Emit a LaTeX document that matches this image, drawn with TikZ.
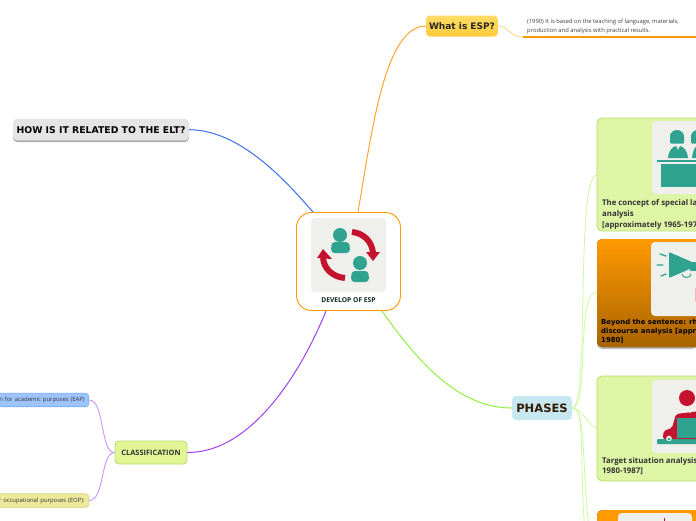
\documentclass[tikz,border=0pt]{standalone}
\usepackage{fontspec}
\setmainfont{Open Sans}
\newfontfamily\dv{DejaVu Sans}
\definecolor{teal1}{HTML}{2FA38F}
\definecolor{crim}{HTML}{C4122F}
\definecolor{pale}{HTML}{EFF0EC}
\definecolor{lime}{HTML}{DFF5A6}
\definecolor{limeb}{HTML}{B4DD6A}
\definecolor{orng}{HTML}{FF9900}
\definecolor{orngd}{HTML}{A86400}
\definecolor{lnkblue}{HTML}{3F6FF0}
\definecolor{lnkorange}{HTML}{FFA52E}
\definecolor{lnkviolet}{HTML}{A040F0}
\definecolor{lnkgreen}{HTML}{90F040}
\definecolor{thinviolet}{HTML}{CC88FF}
\definecolor{thingreen}{HTML}{CDF9A0}
\definecolor{thinorange}{HTML}{FFD08A}
\definecolor{phasesfill}{HTML}{C7E7F1}
\definecolor{eapfill}{HTML}{9EC5FE}
\definecolor{eapline}{HTML}{74A9F2}
\definecolor{eopfill}{HTML}{EDE99A}
\definecolor{eopline}{HTML}{D9D47A}
\definecolor{whattop}{HTML}{FFDC66}
\definecolor{whatbot}{HTML}{FFCB3D}
\tikzset{
 card/.style={rounded corners=5pt,line width=.8pt},
 greencard/.style={card,draw=limeb,fill=lime},
 orangecard/.style={card,draw=none,top color=orng,bottom color=orngd},
 iconbg/.style={rounded corners=4pt,fill=pale,draw=none},
 cardtxt/.style={font=\fontsize{7.8}{10.8}\selectfont\bfseries,anchor=north west,inner sep=0pt,align=left,text=black!80},
 cardtxtd/.style={font=\dv\fontsize{6.9}{9}\selectfont\bfseries,anchor=north west,inner sep=0pt,align=left,text=black},
 lnk/.style={line width=1pt,line cap=round},
 thinlnk/.style={line width=.8pt,line cap=round},
 leaf/.style={rounded corners=3pt,line width=.6pt,minimum height=13.5pt,inner sep=0pt,anchor=east,font=\fontsize{5.9}{7}\selectfont,text=black!80,text width=142pt,align=right},
}
\begin{document}
\begin{tikzpicture}[x=1pt,y=-1pt]
\useasboundingbox (0,0) rectangle (696,520);
\clip (0,0) rectangle (696,520);
\fill[white] (0,0) rectangle (696,520);
\coordinate (cT1) at (358,212);
\coordinate (cT2) at (313,212);
\coordinate (cB1) at (326,311);
\coordinate (cB2) at (382,311);
\coordinate (under) at (523,37);
\coordinate (underEnd) at (696,37);
% nodes
\fill[black!32,rounded corners=4pt] (13,122) rectangle (189,142);
\node[rounded corners=4pt,fill=black!10,minimum width=176pt,minimum height=21.5pt,inner sep=0pt,font=\dv\fontsize{9.3}{11}\selectfont\bfseries,text=black] (elt) at (101,129.7) {HOW IS IT RELATED TO THE ELT?};
\node[rounded corners=4pt,top color=whattop,bottom color=whatbot,minimum width=72pt,minimum height=21pt,inner sep=0pt,font=\dv\fontsize{9}{11}\selectfont\bfseries,text=black!85] (what) at (462,26) {What is ESP?};
\node[rounded corners=4pt,fill=phasesfill,minimum width=60pt,minimum height=24pt,inner sep=0pt,font=\dv\fontsize{11.5}{13}\selectfont\bfseries,text=black!80!orange] (ph) at (542,408) {PHASES};
\node[rounded corners=4pt,fill=lime!90!yellow,draw=limeb,line width=.8pt,minimum width=72pt,minimum height=23pt,inner sep=0pt,font=\fontsize{7.4}{9}\selectfont\bfseries,text=black!80] (cl) at (151,452.5) {CLASSIFICATION};
\node[leaf,fill=eapfill,draw=eapline] (eap) at (89,400) {Instruction for academic purposes (EAP)\hspace*{4pt}};
\node[leaf,fill=eopfill,draw=eopline] (eop) at (89,500.5) {English for occupational purposes (EOP):\hspace*{4pt}};
\node[inner sep=0pt,anchor=north west,align=left,font=\fontsize{5.8}{9.2}\selectfont,text=black!75] (desc) at (527,19) {(1990) It is based on the teaching of language, materials,\\production and analysis with practical results.};
% connectors
\draw[lnk,lnkblue] (cT2) .. controls (285,180) and (240,130) .. (elt.east);
\draw[lnk,lnkorange] (cT1) .. controls (372,130) and (385,26) .. (what.west);
\draw[lnk,lnkviolet] (cB1) .. controls (300,375) and (250,453) .. (cl.east);
\draw[lnk,lnkgreen] (cB2) .. controls (420,365) and (460,408) .. (ph.west);
\draw[thinlnk,thinorange] (what.east) .. controls (508,26) and (510,37) .. (under);
\draw[orng,line width=1.2pt] (under) -- (underEnd);
\draw[thinlnk,thinviolet] (cl.west) .. controls (100,453) and (105,400) .. (eap.east);
\draw[thinlnk,thinviolet] (cl.west) .. controls (100,453) and (105,501) .. (eop.east);
\draw[thinlnk,thingreen] (ph.east) .. controls (590,408) and (575,175) .. (597,175);
\draw[thinlnk,thingreen] (ph.east) .. controls (590,408) and (575,292) .. (597,292);
\draw[thinlnk,thingreen] (ph.east) .. controls (582,408) and (590,428) .. (597,428);
\draw[thinlnk,thingreen] (ph.east) .. controls (590,408) and (578,500) .. (597,570);
\draw[thinlnk,thingreen] (ph.east) .. controls (590,408) and (572,480) .. (597,640);
% central
\node[rounded corners=15pt,draw=orng,line width=.9pt,fill=white,minimum width=104pt,minimum height=98pt,inner sep=0pt] (center) at (348.5,261.5) {};
\fill[iconbg] (311,218) rectangle (386,292);
\node[inner sep=0pt,font=\fontsize{6.7}{8}\selectfont\bfseries,text=teal1!25!black] (ctitle) at (348.5,300) {DEVELOP OF ESP};
% center persons
\fill[teal1] (340,235) circle (7pt);
\fill[teal1,rounded corners=3.5pt] (331,253) -- (331.5,242) -- (349.5,242) -- (350,253) -- cycle;
\fill[teal1] (360,263) circle (7pt);
\fill[teal1,rounded corners=3.5pt] (351,282) -- (351.5,271) -- (368.5,271) -- (369,282) -- cycle;
% center arrows
\draw[crim,line width=6pt] (352,232) .. controls (363,233) and (372,241) .. (373,253);
\fill[crim] (366,252) -- (380,252) -- (373,261) -- cycle;
\draw[crim,line width=6pt] (345,278) .. controls (333,277) and (324,269) .. (323,258);
\fill[crim] (317,258) -- (332,259) -- (323,249) -- cycle;
% green card 1
\draw[greencard] (597,118) rectangle (720,231);
\fill[iconbg] (652,121) rectangle (725,194);
\fill[teal1,rounded corners=1pt] (670,143.5) -- (670,137) arc (180:0:7pt) -- (684,143.5) -- cycle;
\fill[teal1] (668,158) .. controls (669,150) and (672,147) .. (676,146) -- (678,150) -- (680,146) .. controls (684,147) and (687,150) .. (688,158) -- cycle;
\fill[teal1,rounded corners=1pt] (691,143.5) -- (691,137) arc (180:0:7pt) -- (705,143.5) -- cycle;
\fill[teal1] (692,158) .. controls (693,150) and (695,147) .. (697,146) -- (700,158) -- cycle;
\fill[teal1] (657,160) rectangle (700,162);
\fill[teal1] (661,164) rectangle (700,187);
\node[cardtxt] (t1) at (602,199.5) {The concept of special language\\analysis\\{[}approximately 1965-1970{]}};
% orange card
\fill[black!25,rounded corners=5pt] (597,241) rectangle (697,349);
\fill[orangecard] (597,239) rectangle (720,347);
\fill[iconbg] (651,242) rectangle (725,316);
\fill[teal1,rounded corners=1pt] (669,252) -- (669,278) -- (692,268) -- (692,262) -- cycle;
\fill[teal1] (690,262) rectangle (700,271);
\draw[teal1,line width=1.3pt,line cap=round] (660,254) -- (666,256) (657,265) -- (663,265) (661,276) -- (666,274);
\draw[teal1,line width=1pt] (682,274) arc (180:360:4.5pt and 3.5pt);
\fill[crim!30] (695,288) rectangle (697,302);
\node[cardtxtd] (t2) at (601,319) {Beyond the sentence: rhetorical or\\discourse analysis [approximately\\1980]};
% green card 3
\draw[greencard] (597,376) rectangle (720,481);
\fill[iconbg] (652,380) rectangle (725,453);
\fill[crim] (687,398) circle (8pt);
\fill[crim,rounded corners=2pt] (663,439) -- (663.5,431) -- (672,428) -- (676,414) -- (700,411) -- (700,439) -- cycle;
\fill[pale] (686,409.5) -- (690,413) -- (694,409.5) -- cycle;
\fill[teal1] (677,418) rectangle (700,438);
\fill[teal1,rounded corners=1pt] (657,439) rectangle (700,444);
\fill[pale] (669,438.5) circle (2.8pt);
\fill[teal1] (669,439) circle (1.5pt);
\node[cardtxt] (t3) at (602,457) {Target situation analysis [approx\\1980-1987]};
% bottom orange card
\fill[orangecard,bottom color=orng] (597,510) rectangle (720,600);
\fill[iconbg] (618,513) rectangle (692,600);
\fill[crim] (663.5,518) rectangle (664.8,521);
\end{tikzpicture}
\end{document}
